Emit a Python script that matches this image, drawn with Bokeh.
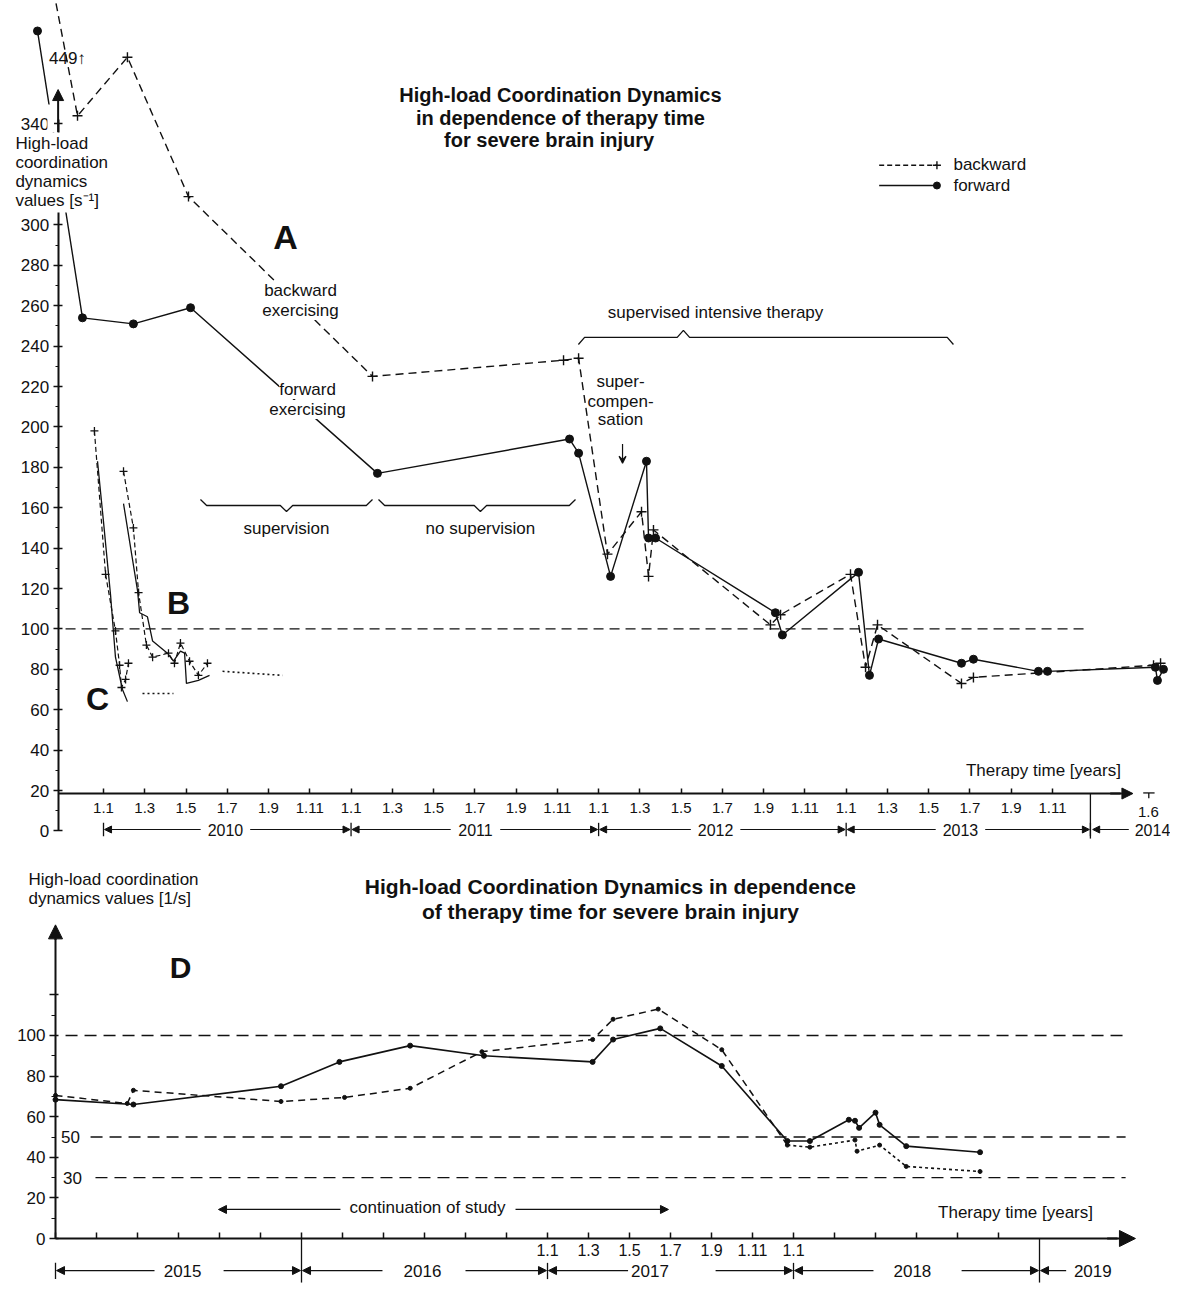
from bokeh.plotting import figure
from bokeh.models import Range1d, LinearAxis, FixedTicker, Label, Arrow, NormalHead, VeeHead, BoxAnnotation
from bokeh.layouts import column
from bokeh.embed import file_html
from bokeh.resources import INLINE

FONT = "Liberation Sans"
INK = "#111111"

# ---------------- Panel A-C (x: months since 1 Jan 2010; y: s^-1, broken axis above 300) ----------------
fwd_A_x = [-3.20, -1.02, 1.45, 4.22, 13.28, 22.59, 23.03, 24.58, 26.32, 26.42, 26.76, 32.57, 32.91,
           36.60, 37.13, 37.57, 41.59, 42.17, 45.32, 45.76, 50.99, 51.09, 51.38]
fwd_A_y = [396, 254, 251, 259, 177, 194, 187, 126, 183, 145, 145, 108, 97,
           128, 77, 95, 83, 85, 79, 79, 81, 74.5, 80]
bwd_A_x = [-2.42, -1.26, 1.16, 4.12, 13.04, 22.30, 23.03, 24.43, 26.08, 26.42, 26.66, 32.33, 32.82,
           36.21, 36.94, 37.52, 41.59, 42.17, 50.90, 51.24]
bwd_A_y = [416, 354, 383, 314, 225, 233, 234, 137, 158, 126, 149, 102, 107,
           127, 81, 102, 73, 76, 82, 83]

bwd_C_x = [-0.44, 0.10, 0.58, 0.78, 0.87, 1.07, 1.21]
bwd_C_y = [198, 127, 99, 82, 71, 75, 83]
fwd_C_x = [-0.29, 0.00, 0.34, 0.58, 0.92, 1.16]
fwd_C_y = [183, 153, 117, 86, 70, 64]
bwd_B_x = [0.97, 1.45, 1.70, 2.08, 2.38, 3.15, 3.44, 3.73, 4.17, 4.60, 5.04]
bwd_B_y = [178, 150, 118, 92, 86, 88, 83, 93, 84, 77, 83]
fwd_B_x = [0.97, 1.65, 1.75, 2.13, 2.38, 3.10, 3.39, 3.73, 3.93, 4.02, 4.60, 5.14]
fwd_B_y = [162, 119, 108, 106, 94, 88, 84, 89, 88, 73, 74.5, 77]
dot_C_x = [1.89, 3.39]
dot_C_y = [68, 68]
dot_B_x = [5.77, 8.68]
dot_B_y = [79, 77]

top_y_ticks = [0, 20, 40, 60, 80, 100, 120, 140, 160, 180, 200, 220, 240, 260, 280, 300, 350]
top_y_minor = [10, 30, 50, 70, 90, 110, 130, 150, 170, 190, 210, 230, 250, 270, 290]
top_x_ticks = [12 * yr + k for yr in range(4) for k in (0, 2, 4, 6, 8, 10)]
top_x_labels = ["1.1", "1.3", "1.5", "1.7", "1.9", "1.11"] * 4
top_years = ["2010", "2011", "2012", "2013"]
top_year_bounds = [0, 12, 24, 36, 47.84]
top_year_label_x = [5.91, 18.03, 29.67, 41.54]
top_year_gap = [(1.2, 1.2), (1.2, 1.2), (1.2, 1.2), (1.2, 1.2)]

# ---------------- Panel D (x: months since 1 Jan 2015; y: 1/s) ----------------
fwd_D_x = [0, 3.8, 11.0, 13.85, 17.3, 20.9, 26.2, 27.2, 29.5, 32.5, 35.7, 36.8, 38.7, 39.0, 39.2, 40.0, 40.2, 41.5, 45.1]
fwd_D_y = [68.4, 66, 75, 87, 95, 90, 87, 98, 103.5, 85, 48, 48, 58.5, 58, 54.5, 62, 56, 45.5, 42.5]
bwd_D_x = [0, 3.5, 3.8, 11.0, 14.1, 17.3, 20.8, 26.2, 27.2, 29.4, 32.5, 35.7, 36.8, 39.0, 39.1, 40.2, 41.5, 45.1]
bwd_D_y = [70.5, 66.5, 73, 67.5, 69.5, 74, 92, 98, 108, 113, 93, 46, 45, 48.5, 43, 46, 35.5, 33]
split_D = 11

bot_y_ticks = [0, 20, 40, 60, 80, 100, 120]
bot_y_minor = [10, 30, 50, 70, 90, 110]
bot_x_ticks = list(range(0, 48, 2))
bot_x_labels = {24: "1.1", 26: "1.3", 28: "1.5", 30: "1.7", 32: "1.9", 34: "1.11", 36: "1.1"}
bot_years = ["2015", "2016", "2017", "2018"]
bot_year_bounds = [0, 12, 24, 36, 48]
bot_year_label_x = [6.2, 17.9, 29.0, 41.8]
bot_year_gap = [(1.37, 2.0), (1.95, 2.1), (1.07, 3.2), (1.9, 2.4)]
ref_levels_D = [100, 50, 30]
ref_start_D = [0.49, 1.71, 1.95]


def base_fig(w, h, xr, yr):
    p = figure(width=w, height=h, x_range=Range1d(*xr), y_range=Range1d(*yr),
               x_axis_type=None, y_axis_type=None, toolbar_location=None,
               output_backend="svg", min_border=0)
    p.outline_line_color = None
    p.background_fill_color = "white"
    p.border_fill_color = "white"
    return p


def lab(p, x, y, text, size="17px", bold=False, align="center", bg=False):
    l = Label(x=x, y=y, text=text, text_font=FONT, text_font_size=size,
              text_font_style="bold" if bold else "normal", text_align=align,
              text_baseline="middle", text_color=INK)
    if bg:
        l.background_fill_color = "white"
        l.background_fill_alpha = 1.0
    p.add_layout(l)


def arrow(p, x0, y0, x1, y1, size=8, lw=1.2, vee=False):
    head = VeeHead(size=size, line_color=INK, line_width=lw) if vee else \
        NormalHead(size=size, fill_color=INK, line_color=INK)
    p.add_layout(Arrow(end=head, x_start=x0, y_start=y0, x_end=x1, y_end=y1,
                       line_color=INK, line_width=lw))


def brace(p, x0, x1, xc, y, d, e, up):
    s = 1 if up else -1
    xs = [x0, x0 + e, xc - e, xc, xc + e, x1 - e, x1]
    ys = [y - s * d, y, y, y + s * d, y, y, y - s * d]
    p.line(xs, ys, line_color=INK, line_width=1.3)


def axis_style(ax, size):
    ax.axis_line_color = INK
    ax.axis_line_width = 2
    ax.major_tick_line_color = INK
    ax.major_tick_line_width = 1.5
    ax.minor_tick_line_color = INK
    ax.major_label_text_font = FONT
    ax.major_label_text_font_size = size
    ax.major_label_text_color = INK


def year_bars(p, labels, bounds, centers, gaps, y, size, head):
    for i, yr in enumerate(labels):
        gl, gr = gaps[i]
        arrow(p, centers[i] - gl, y, bounds[i] + 0.05, y, size=head)
        arrow(p, centers[i] + gr, y, bounds[i + 1] - 0.05, y, size=head)
        lab(p, centers[i], y, yr, size=size)


# =========================== TOP FIGURE ===========================
p1 = base_fig(1170, 850, (-4.993, 51.722), (-9.70, 411.09))

# reference line at 100
p1.segment(x0=[-1.84], y0=[100], x1=[47.75], y1=[100], line_color=INK, line_width=1.2, line_dash="10 6")

# series A
p1.line(bwd_A_x, bwd_A_y, line_color=INK, line_width=1.4, line_dash="8 5")
p1.scatter(bwd_A_x, bwd_A_y, marker="cross", size=10, line_color=INK, line_width=1.4)
p1.line(fwd_A_x, fwd_A_y, line_color=INK, line_width=1.4)
p1.scatter(fwd_A_x, fwd_A_y, marker="circle", size=8, fill_color=INK, line_color=INK)

# series B and C
for xs, ys in ((bwd_C_x, bwd_C_y), (bwd_B_x, bwd_B_y)):
    p1.line(xs, ys, line_color=INK, line_width=1.2, line_dash="5 3")
    p1.scatter(xs, ys, marker="cross", size=8, line_color=INK, line_width=1.3)
for xs, ys in ((fwd_C_x, fwd_C_y), (fwd_B_x, fwd_B_y)):
    p1.line(xs, ys, line_color=INK, line_width=1.3)
for xs, ys in ((dot_C_x, dot_C_y), (dot_B_x, dot_B_y)):
    p1.line(xs, ys, line_color=INK, line_width=1.6, line_dash="2 3")

# legend
p1.line([37.6, 40.4], [329.5, 329.5], line_color=INK, line_width=1.4, line_dash="5 3")
p1.scatter([40.4], [329.5], marker="cross", size=8, line_color=INK, line_width=1.4)
p1.line([37.6, 40.4], [319.5, 319.5], line_color=INK, line_width=1.4)
p1.scatter([40.4], [319.5], marker="circle", size=7, fill_color=INK, line_color=INK)
lab(p1, 41.2, 329.9, "backward", align="left")
lab(p1, 41.2, 319.3, "forward", align="left")

# axes
yax1 = LinearAxis(fixed_location=-2.2, bounds=(0, 352),
                  ticker=FixedTicker(ticks=top_y_ticks, minor_ticks=top_y_minor),
                  major_label_overrides={350: "340"},
                  major_tick_in=4, major_tick_out=5, minor_tick_in=0, minor_tick_out=3,
                  major_label_standoff=4)
axis_style(yax1, "17px")
p1.add_layout(yax1, "left")

xax1 = LinearAxis(fixed_location=18.5, bounds=(-2.2, 49.3),
                  ticker=FixedTicker(ticks=top_x_ticks, minor_ticks=[]),
                  major_label_overrides=dict(zip(top_x_ticks, top_x_labels)),
                  major_tick_in=5, major_tick_out=0, major_label_standoff=9)
axis_style(xax1, "15px")
p1.add_layout(xax1, "below")
arrow(p1, 48.8, 18.5, 49.9, 18.5, size=11, lw=2)

# white masks where the curve passes behind the axis title
p1.add_layout(BoxAnnotation(left=-2.72, right=-2.40, bottom=345.7, top=359.6,
                            fill_color="white", fill_alpha=1, line_color=None))
p1.add_layout(BoxAnnotation(left=-4.5, right=0.44, bottom=306.1, top=345.7,
                            fill_color="white", fill_alpha=1, line_color=None))
arrow(p1, -2.2, 346, -2.2, 367, size=11, lw=2)

for i, t in enumerate(["High-load", "coordination", "dynamics", "values [s\u207b\u00b9]"]):
    lab(p1, -4.27, 340.3 - 9.4 * i, t, align="left")

lab(p1, -1.75, 382.4, "449\u2191")

# 2014 part of the axis
p1.segment(x0=[50.4], y0=[18.8], x1=[50.95], y1=[18.8], line_color=INK, line_width=1.3)
p1.segment(x0=[50.67], y0=[18.8], x1=[50.67], y1=[16.2], line_color=INK, line_width=1.3)
lab(p1, 50.65, 9.6, "1.6", size="15px")
p1.segment(x0=[47.84], y0=[18.5], x1=[47.84], y1=[-3.8], line_color=INK, line_width=1.3)

# year bars
ybar = 0.69
p1.segment(x0=top_year_bounds, y0=[4.0] * 5, x1=top_year_bounds, y1=[-2.6] * 5, line_color=INK, line_width=1.3)
year_bars(p1, top_years, top_year_bounds, top_year_label_x, top_year_gap, ybar, "16px", 7)
arrow(p1, 49.7, ybar, 47.95, ybar, size=7)
lab(p1, 50.85, ybar, "2014", size="16px")

# titles and annotations
lab(p1, 22.15, 364.1, "High-load Coordination Dynamics", size="20px", bold=True)
lab(p1, 22.15, 352.7, "in dependence of therapy time", size="20px", bold=True)
lab(p1, 21.6, 341.8, "for severe brain injury", size="20px", bold=True)

lab(p1, 8.82, 293.8, "A", size="34px", bold=True)
lab(p1, 3.64, 112.6, "B", size="32px", bold=True)
lab(p1, -0.29, 65.5, "C", size="32px", bold=True)

lab(p1, 9.55, 267.5, "backward", bg=True)
lab(p1, 9.55, 257.6, "exercising", bg=True)
lab(p1, 9.89, 218.5, "forward", bg=True)
lab(p1, 9.89, 208.6, "exercising", bg=True)

lab(p1, 29.67, 256.6, "supervised intensive therapy")
brace(p1, 23.02, 41.2, 28.11, 244.3, 3.5, 0.3, True)

lab(p1, 25.06, 222.5, "super-")
lab(p1, 25.06, 212.6, "compen-")
lab(p1, 25.06, 203.7, "sation")
arrow(p1, 25.16, 191.5, 25.16, 182.0, size=7, lw=1.2, vee=True)

brace(p1, 4.70, 13.04, 8.87, 161.1, 3.0, 0.3, False)
lab(p1, 8.87, 149.7, "supervision")
brace(p1, 13.33, 22.88, 18.27, 161.1, 3.0, 0.3, False)
lab(p1, 18.27, 149.7, "no supervision")

lab(p1, 45.56, 29.9, "Therapy time [years]")

# =========================== BOTTOM FIGURE ===========================
p2 = base_fig(1170, 450, (-2.683, 54.390), (-30.54, 191.13))

for lv, xs0 in zip(ref_levels_D, ref_start_D):
    p2.segment(x0=[xs0], y0=[lv], x1=[52.2], y1=[lv], line_color=INK, line_width=1.3, line_dash="12 7")

p2.line(fwd_D_x, fwd_D_y, line_color=INK, line_width=1.6)
p2.scatter(fwd_D_x, fwd_D_y, marker="circle", size=5, fill_color=INK, line_color=INK)
p2.line(bwd_D_x[:split_D + 1], bwd_D_y[:split_D + 1], line_color=INK, line_width=1.5, line_dash="7 5")
p2.line(bwd_D_x[split_D:], bwd_D_y[split_D:], line_color=INK, line_width=1.6, line_dash="3 3")
p2.scatter(bwd_D_x, bwd_D_y, marker="circle", size=4, fill_color=INK, line_color=INK)

yax2 = LinearAxis(fixed_location=0, bounds=(0, 150),
                  ticker=FixedTicker(ticks=bot_y_ticks, minor_ticks=bot_y_minor),
                  major_label_overrides={120: ""},
                  major_tick_in=3, major_tick_out=6, minor_tick_in=0, minor_tick_out=4,
                  major_label_standoff=4)
axis_style(yax2, "17px")
p2.add_layout(yax2, "left")
arrow(p2, 0, 147, 0, 154.5, size=14, lw=2)

xax2 = LinearAxis(fixed_location=0, bounds=(0, 51.8),
                  ticker=FixedTicker(ticks=bot_x_ticks, minor_ticks=[]),
                  major_label_overrides={t: bot_x_labels.get(t, "") for t in bot_x_ticks},
                  major_tick_in=6, major_tick_out=0, major_label_standoff=5)
axis_style(xax2, "16px")
p2.add_layout(xax2, "below")
arrow(p2, 51.3, 0, 52.68, 0, size=16, lw=2)

lab(p2, 0.73, 50, "50")
lab(p2, 0.83, 30, "30")

# year bars
yb2 = -15.8
p2.segment(x0=[12, 48], y0=[0, 0], x1=[12, 48], y1=[-21.7, -21.7], line_color=INK, line_width=1.3)
p2.segment(x0=[0, 24, 36], y0=[-12, -12, -12], x1=[0, 24, 36], y1=[-20, -20, -20], line_color=INK, line_width=1.3)
year_bars(p2, bot_years, bot_year_bounds, bot_year_label_x, bot_year_gap, yb2, "17px", 8)
arrow(p2, 49.3, yb2, 48.05, yb2, size=8)
lab(p2, 50.6, yb2, "2019", size="17px")

lab(p2, -1.32, 176.8, "High-load coordination", align="left")
lab(p2, -1.32, 167.5, "dynamics values [1/s]", align="left")
lab(p2, 27.07, 173.4, "High-load Coordination Dynamics in dependence", size="21px", bold=True)
lab(p2, 27.07, 161.1, "of therapy time for severe brain injury", size="21px", bold=True)
lab(p2, 6.10, 133.5, "D", size="30px", bold=True)

arrow(p2, 13.9, 14.3, 7.95, 14.3, size=8)
arrow(p2, 22.44, 14.3, 29.9, 14.3, size=8)
lab(p2, 18.15, 15.3, "continuation of study")
lab(p2, 46.83, 12.8, "Therapy time [years]")

page = column(p1, p2, spacing=0)
open("out.html", "w").write(file_html(page, INLINE))
